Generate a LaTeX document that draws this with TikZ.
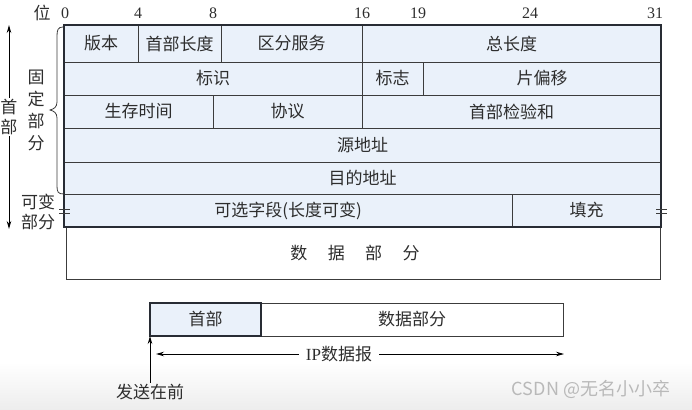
\documentclass[tikz,border=0pt]{standalone}
\usepackage{fontspec}
\setmainfont{Liberation Serif}
\newfontfamily\cjk{Noto Sans CJK SC}
\usetikzlibrary{arrows.meta,positioning}
\definecolor{hdrfill}{RGB}{234,241,250}
\definecolor{lncol}{RGB}{60,60,60}
\definecolor{frmcol}{RGB}{40,44,52}
\definecolor{txtcol}{RGB}{45,45,45}
\tikzset{
    cell/.style={
        draw=lncol,
        line width=0.8pt,
        fill=hdrfill,
        inner sep=0pt,
        outer sep=0pt,
        anchor=north west,
        text=txtcol,
        font=\cjk\fontsize{17}{19}\selectfont
    },
    frame/.style={draw=frmcol, line width=2pt},
    bitno/.style={font=\fontsize{16}{18}\selectfont, text=txtcol, inner sep=1pt},
    lbl/.style={
        font=\cjk\fontsize{17}{20}\selectfont,
        text=txtcol,
        align=center,
        inner sep=1pt
    },
    tip/.style={-{Stealth[length=8pt,width=4.5pt]}, line width=0.9pt},
    brk/.style={draw=lncol, line width=0.8pt}
}

\begin{document}
\begin{tikzpicture}[x=1pt, y=-1pt]
        \useasboundingbox (0,0) rectangle (692,409);
        \shade[top color=white, bottom color=gray!14] (0,362) rectangle (692,409);

        % data part below the header
        \node[cell, fill=white, minimum width=594pt, minimum height=52pt] (data) at (66,227) {\hspace{-16pt}数\hspace{1.2em}据\hspace{1.2em}部\hspace{1.2em}分};

        % header fields
        \node[cell, minimum width=74pt, minimum height=37pt] (ver) at (64,25) {版本};
        \node[cell, minimum width=83pt, minimum height=37pt, right=0pt of ver] (ihl) {首部长度};
        \node[cell, minimum width=141pt, minimum height=37pt, right=0pt of ihl] (tos) {区分服务};
        \node[cell, minimum width=299pt, minimum height=37pt, right=0pt of tos] (tlen) {总长度};

        \node[cell, minimum width=298pt, minimum height=33pt] (ident) at (ver.south west) {标识};
        \node[cell, minimum width=61pt, minimum height=33pt, right=0pt of ident] (flags) {标志};
        \node[cell, minimum width=238pt, minimum height=33pt, right=0pt of flags] (frag) {片偏移};

        \node[cell, minimum width=149pt, minimum height=33pt] (ttl) at (ident.south west) {生存时间};
        \node[cell, minimum width=149pt, minimum height=33pt, right=0pt of ttl] (proto) {协议};
        \node[cell, minimum width=299pt, minimum height=33pt, right=0pt of proto] (cksum) {首部检验和};

        \node[cell, minimum width=597pt, minimum height=34pt] (src) at (ttl.south west) {源地址};
        \node[cell, minimum width=597pt, minimum height=32pt] (dst) at (src.south west) {目的地址};

        \node[cell, minimum width=448pt, minimum height=33pt] (opt) at (dst.south west) {可选字段(长度可变)};
        \node[cell, minimum width=149pt, minimum height=33pt, right=0pt of opt] (pad) {填充};

        \draw[frame] (ver.north west) rectangle (pad.south east);

        % bit positions
        \node[lbl] (pos) at (42,13) {位};
        \foreach \b/\x in {0/65,4/138,8/213,16/362,19/418,24/530,31/655}
            \node[bitno] (bit\b) at (\x,13) {\b};

        % left side labels
        \node[lbl] (hdr) at (9,117) {首\\部};
        \coordinate (hdrtop) at (9,25);
        \coordinate (hdrbot) at (9,229);
        \draw[tip] (hdr.north) -- (hdrtop);
        \draw[tip] (hdr.south) -- (hdrbot);

        \node[lbl, font=\cjk\fontsize{17}{22}\selectfont] (fixd) at (36,110) {固\\定\\部\\分};
        \draw[lncol, line width=0.8pt] (63,27) .. controls (58,27) and (57,30) .. (57,36) -- (57,102)
            .. controls (57,107) and (54,109) .. (50,110) .. controls (54,111) and (57,113) .. (57,118)
            -- (57,186) .. controls (57,192) and (58,194) .. (64,194);

        \node[lbl] (varp) at (38,212) {可变\\部分};
        \draw[brk] (59,209) -- (70,209) (59,213) -- (70,213);
        \draw[brk] (656,209) -- (667,209) (656,213) -- (667,213);

        % datagram overview
        \node[cell, fill=white, minimum width=302pt, minimum height=33pt] (pdata) at (261,303) {数据部分};
        \node[cell, draw=frmcol, line width=1.8pt, minimum width=111pt, minimum height=33pt, left=0pt of pdata] (phdr) {首部};

        \node[lbl, inner xsep=7pt] (ipdg) at (339,354) {{\rmfamily IP}数据报};
        \coordinate (ipl) at (156,354);
        \coordinate (ipr) at (564,354);
        \draw[tip] (ipdg.west) -- (ipl);
        \draw[tip] (ipdg.east) -- (ipr);

        \node[lbl] (first) at (150,392) {发送在前};
        \draw[tip] (first.north) -- (phdr.south west);

        \node[font=\cjk\fontsize{18}{20}\selectfont, text=gray!55] (wm) at (591,389) {CSDN @无名小小卒};
    \end{tikzpicture}
\end{document}
